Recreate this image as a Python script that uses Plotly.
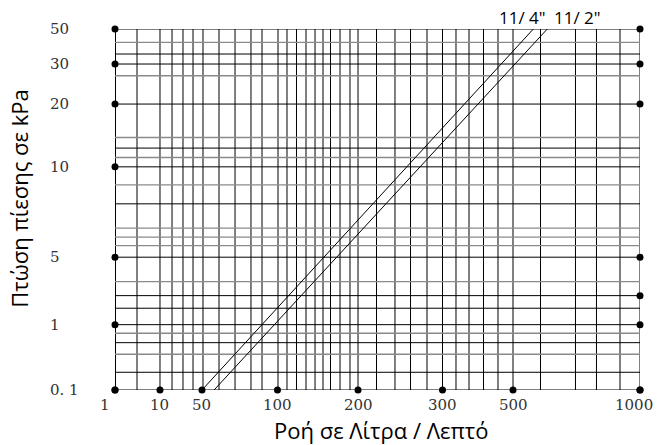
import numpy as np
import plotly.graph_objects as go

# ---- printed (irregular) scale of the chart: tick values and where they sit on the axis (0-100 of axis length)
x_tick_labels = ["1", "10", "50", "100", "200", "300", "500", "1000"]
x_tick_values = [1, 10, 50, 100, 200, 300, 500, 1000]
x_tick_scale = [0, 8.57, 16.57, 30.95, 46.29, 62.38, 75.81, 100]

y_tick_labels = ["0. 1", "1", "5", "10", "20", "30", "50"]
y_tick_values = [0.1, 1, 5, 10, 20, 30, 50]
y_tick_scale = [0, 18.10, 36.79, 61.82, 79.21, 90.30, 100]

# grid of the printed chart (axis-length units)
x_grid = [0, 4.19, 8.57, 10.86, 12.95, 14.86, 16.76, 19.81, 22.86, 25.90, 28.0, 31.05,
          32.76, 34.57, 36.38, 38.10, 39.62, 41.05, 42.86, 44.76, 46.29, 49.81, 53.33,
          56.29, 59.43, 62.38, 64.95, 67.43, 70.19, 72.95, 75.81, 81.05, 87.71, 91.71,
          96.19, 100]
y_grid_dark = [100, 93.07, 90.30, 79.21, 67.01, 61.82, 51.57, 36.79, 26.14, 22.65,
               18.10, 13.11, 4.91, 0]
y_grid_light = [96.29, 87.05, 69.95, 64.40, 56.83, 44.83, 42.33, 40.01, 30.02, 15.72, 9.90]

# ---- data: flow (l/min) vs pressure drop (kPa)
series_names = ['11/ 4"', '11/ 2"']
flow_1_1_4 = [50, 580]
drop_1_1_4 = [0.1, 50]
flow_1_1_2 = [58, 635]
drop_1_1_2 = [0.1, 50]

left_dot_values = [0.1, 1, 5, 10, 20, 30, 50]
right_dot_values = [50, 30, 20, 5, 2.72, 1, 0.1]
bottom_dot_values = [1, 10, 50, 100, 200, 300, 500, 1000]


def fx(v):
    return np.interp(v, x_tick_values, x_tick_scale)


def fy(v):
    return np.interp(v, y_tick_values, y_tick_scale)


fig = go.Figure()

for name, fl, dr in [(series_names[0], flow_1_1_4, drop_1_1_4),
                     (series_names[1], flow_1_1_2, drop_1_1_2)]:
    fig.add_trace(go.Scatter(x=fx(fl), y=fy(dr), mode="lines", name=name,
                             line=dict(color="black", width=1), showlegend=False))

dot_style = dict(color="black", size=7)
fig.add_trace(go.Scatter(x=[0] * len(left_dot_values), y=fy(left_dot_values), mode="markers",
                         marker=dot_style, cliponaxis=False, showlegend=False))
fig.add_trace(go.Scatter(x=[100] * len(right_dot_values), y=fy(right_dot_values), mode="markers",
                         marker=dot_style, cliponaxis=False, showlegend=False))
fig.add_trace(go.Scatter(x=fx(bottom_dot_values), y=[0] * len(bottom_dot_values), mode="markers",
                         marker=dot_style, cliponaxis=False, showlegend=False))

shapes = []
for xv in x_grid:
    shapes.append(dict(type="line", xref="x", yref="y", x0=xv, x1=xv, y0=0, y1=100,
                       line=dict(color="black", width=2 if xv == 0 else 1), layer="below"))
for yv in y_grid_light:
    shapes.append(dict(type="line", xref="x", yref="y", x0=0, x1=100, y0=yv, y1=yv,
                       line=dict(color="#8a8a8a", width=1.3), layer="below"))
for yv in y_grid_dark:
    shapes.append(dict(type="line", xref="x", yref="y", x0=0, x1=100, y0=yv, y1=yv,
                       line=dict(color="black", width=1), layer="below"))

tick_font = dict(family="DejaVu Serif", size=15, color="#333")
ann = []
for lab, v in zip(x_tick_labels, x_tick_values):
    ann.append(dict(x=fx(v), y=0, xref="x", yref="y", text=lab, showarrow=False,
                    yanchor="top", yshift=-4,
                    xshift=-10 if lab == "1" else (-6 if lab == "1000" else 0),
                    font=tick_font))
for lab, v in zip(y_tick_labels, y_tick_values):
    ann.append(dict(x=0, y=fy(v), xref="paper", yref="y", text=lab, showarrow=False,
                    xanchor="left", xshift=-67, font=tick_font))

lab_font = dict(family="Open Sans", size=17, color="black")
ann.append(dict(x=fx(flow_1_1_4[-1]), y=100, xref="x", yref="y", text=series_names[0],
                showarrow=False, yanchor="bottom", xshift=-11, yshift=-2, font=lab_font))
ann.append(dict(x=fx(flow_1_1_2[-1]), y=100, xref="x", yref="y", text=series_names[1],
                showarrow=False, yanchor="bottom", xshift=30, yshift=-2, font=lab_font))

title_font = dict(family="Open Sans", size=22, color="black")
ann.append(dict(x=0.5, y=0, xref="paper", yref="paper", text="Ροή σε Λίτρα / Λεπτό",
                showarrow=False, yanchor="middle", yshift=-40, xshift=3, font=title_font))
ann.append(dict(x=0, y=0.53, xref="paper", yref="paper", text="Πτώση πίεσης σε kPa",
                showarrow=False, textangle=-90, xanchor="center", xshift=-96, font=title_font))

fig.update_layout(
    width=657, height=445, autosize=False,
    margin=dict(l=115, r=17, t=29, b=55),
    paper_bgcolor="white", plot_bgcolor="white",
    xaxis=dict(range=[0, 100], showgrid=False, zeroline=False, showticklabels=False,
               showline=False, ticks="", fixedrange=True),
    yaxis=dict(range=[0, 100], showgrid=False, zeroline=False, showticklabels=False,
               showline=False, ticks="", fixedrange=True),
    shapes=shapes, annotations=ann, showlegend=False,
)

fig.write_html("out.html", config={"displayModeBar": False},
               post_script="document.body.style.margin='0';")
